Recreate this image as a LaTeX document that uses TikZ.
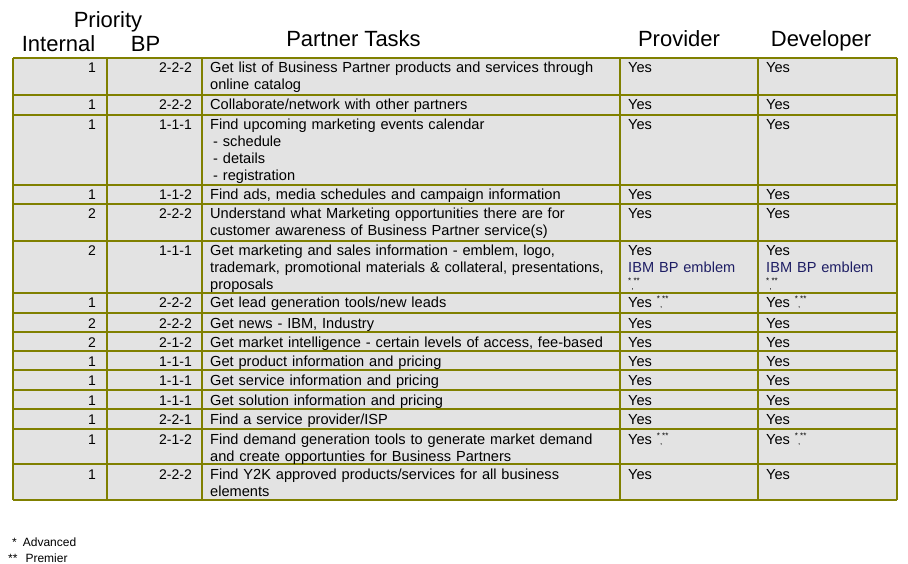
\documentclass[tikz,border=0pt]{standalone}
\usepackage{fontspec}
\setmainfont{Liberation Sans}
\definecolor{tblolive}{RGB}{128,128,0}
\definecolor{tblgray}{RGB}{227,227,227}
\definecolor{embnavy}{RGB}{30,30,100}
\newcommand{\advprem}{{\fontsize{8}{8}\selectfont\raisebox{6pt}{*},\raisebox{6pt}{**}}}
\begin{document}
\begin{tikzpicture}[x=1pt,y=-1pt]
\tikzset{num/.style={inner sep=0pt, anchor=base east, font=\fontsize{14}{17}\selectfont},
    cell/.style={inner sep=0pt, anchor=base west, text width=400pt, align=left, font=\fontsize{14.6}{17}\selectfont},
    yescell/.style={cell, text width=125pt},
    head/.style={inner sep=0pt, anchor=base, font=\fontsize{22}{24}\selectfont},
    foot/.style={inner sep=0pt, anchor=base west, font=\fontsize{12}{14}\selectfont},
    tblline/.style={draw=tblolive, line width=1.2pt}}
        \useasboundingbox (0,0) rectangle (908,564);

        % table body
        \fill[tblgray] (13,58) rectangle (897,500);
        \foreach \y in {58,95,115,185,204,241,293,313,332,351,370,390,409,429,464,500}
            \draw[tblline] (13,\y) -- (897,\y);
        \foreach \x in {13,107,202,620,758,897}
            \draw[tblline] (\x,58) -- (\x,500);

        % headings
        \node[head] (prio) at (108,28) {Priority};
        \node[head] (internal) at (58.5,52) {Internal};
        \node[head] (bp) at (145.5,52) {BP};
        \node[head] (tasks) at (353.5,47) {Partner Tasks};
        \node[head] (provider) at (679,47) {Provider};
        \node[head] (developer) at (821,47) {Developer};

        % priorities
        \foreach \y/\i/\b [count=\n] in {58/1/2-2-2, 95/1/2-2-2, 115/1/1-1-1, 185/1/1-1-2, 204/2/2-2-2,
                241/2/1-1-1, 293/1/2-2-2, 313/2/2-2-2, 332/2/2-1-2, 351/1/1-1-1, 370/1/1-1-1,
                390/1/1-1-1, 409/1/2-2-1, 429/1/2-1-2, 464/1/2-2-2} {
            \node[num] (int\n) at (96,\y+15) {\i};
            \node[num] (bp\n) at (192,\y+15) {\b};
        }

        % tasks
        \node[cell] (task1) at (210,73) {Get list of Business Partner products and services through\\online catalog};
        \node[cell] (task2) at (210,110) {Collaborate/network with other partners};
        \node[cell] (task3) at (210,130) {Find upcoming marketing events calendar\\\hspace*{3pt}- schedule\\\hspace*{3pt}- details\\\hspace*{3pt}- registration};
        \node[cell] (task4) at (210,200) {Find ads, media schedules and campaign information};
        \node[cell] (task5) at (210,219) {Understand what Marketing opportunities there are for\\customer awareness of Business Partner service(s)};
        \node[cell] (task6) at (210,256) {Get marketing and sales information - emblem, logo,\\trademark, promotional materials \& collateral, presentations,\\proposals};
        \node[cell] (task7) at (210,308) {Get lead generation tools/new leads};
        \node[cell] (task8) at (210,328) {Get news - IBM, Industry};
        \node[cell] (task9) at (210,347) {Get market intelligence - certain levels of access, fee-based};
        \node[cell] (task10) at (210,366) {Get product information and pricing};
        \node[cell] (task11) at (210,385) {Get service information and pricing};
        \node[cell] (task12) at (210,405) {Get solution information and pricing};
        \node[cell] (task13) at (210,424) {Find a service provider/ISP};
        \node[cell] (task14) at (210,444) {Find demand generation tools to generate market demand\\and create opportunties for Business Partners};
        \node[cell] (task15) at (210,479) {Find Y2K approved products/services for all business\\elements};

        % provider / developer
        \foreach \y/\n in {58/1, 95/2, 115/3, 185/4, 204/5, 313/8, 332/9, 351/10, 370/11, 390/12, 409/13, 464/15} {
            \node[yescell] (prov\n) at (628,\y+15) {Yes};
            \node[yescell] (dev\n) at (766,\y+15) {Yes};
        }
        \node[yescell] (prov6) at (628,256) {Yes\\\textcolor{embnavy}{IBM BP emblem}\\\advprem};
        \node[yescell] (dev6) at (766,256) {Yes\\\textcolor{embnavy}{IBM BP emblem}\\\advprem};
        \node[yescell] (prov7) at (628,308) {Yes \advprem};
        \node[yescell] (dev7) at (766,308) {Yes \advprem};
        \node[yescell] (prov14) at (628,444) {Yes \advprem};
        \node[yescell] (dev14) at (766,444) {Yes \advprem};

        % footnotes
        \node[foot] (adv) at (12,546) {*\hspace{6pt}Advanced};
        \node[foot] (prem) at (8,562) {**\hspace{8pt}Premier};
\end{tikzpicture}
\end{document}
